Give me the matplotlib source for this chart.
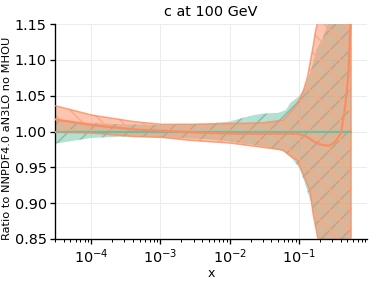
import numpy as np
import matplotlib
matplotlib.use("Agg")
import matplotlib.pyplot as plt

# Reference PDF (green) band
x_ref = [3e-5, 1e-4, 3e-4, 1e-3, 5e-3, 1e-2, 2e-2, 3e-2, 5e-2, 0.065, 0.075, 0.1, 0.12, 0.15, 0.18, 0.22, 0.26, 0.3, 0.4, 0.57]
ref_up = [1.016, 1.012, 1.010, 1.009, 1.011, 1.014, 1.022, 1.025, 1.026, 1.030, 1.040, 1.049, 1.060, 1.086, 1.115, 1.130, 1.150, 1.18, 1.25, 1.3]
ref_lo = [0.983, 0.991, 0.993, 0.992, 0.989, 0.986, 0.982, 0.979, 0.975, 0.970, 0.965, 0.950, 0.930, 0.900, 0.860, 0.82, 0.79, 0.77, 0.74, 0.7]
ref_cv = [1.0] * len(x_ref)

# Compared PDF (orange) band
x_cmp = [3e-5, 1e-4, 3.9e-4, 1e-3, 2.4e-3, 1e-2, 3e-2, 5.9e-2, 7.4e-2, 0.094, 0.114, 0.133, 0.144, 0.16, 0.17, 0.188, 0.2, 0.27, 0.33, 0.37, 0.405, 0.452, 0.488, 0.521, 0.55, 0.565]
cmp_up = [1.036, 1.023, 1.014, 1.010, 1.010, 1.011, 1.012, 1.016, 1.026, 1.038, 1.055, 1.076, 1.095, 1.118, 1.135, 1.155, 1.17, 1.22, 1.26, 1.28, 1.29, 1.3, 1.3, 1.3, 1.3, 1.3]
cmp_lo = [0.999, 0.998, 0.993, 0.992, 0.988, 0.984, 0.978, 0.974, 0.966, 0.960, 0.942, 0.925, 0.918, 0.885, 0.872, 0.850, 0.83, 0.78, 0.75, 0.73, 0.72, 0.71, 0.7, 0.7, 0.7, 0.7]
cmp_cv = [1.017, 1.009, 1.003, 1.001, 0.999, 0.997, 0.997, 0.997, 0.997, 0.997, 0.995, 0.992, 0.990, 0.987, 0.985, 0.983, 0.982, 0.980, 0.985, 0.992, 0.998, 1.026, 1.053, 1.086, 1.142, 1.17]

GREEN = "#66c2a5"
ORANGE = "#fc8d62"

plt.rcParams['font.family'] = ['DejaVu Sans']
plt.rcParams['font.size'] = 6.8
plt.rcParams['hatch.linewidth'] = 0.9

fig = plt.figure(figsize=(374 / 120, 281 / 120), dpi=120)
ax = fig.add_axes([55 / 374, 1 - 239 / 281, (367 - 55) / 374, (239 - 24) / 281])

def smooth(xs, ys):
    lx = np.log10(xs)
    g = np.linspace(lx[0], lx[-1], 600)
    return 10 ** g, np.interp(g, lx, ys)

# green
gx, gu = smooth(x_ref, ref_up)
_, gl = smooth(x_ref, ref_lo)
_, gc = smooth(x_ref, ref_cv)
ax.fill_between(gx, gl, gu, facecolor=GREEN, edgecolor='#6f8f80', alpha=0.5, hatch='//', linewidth=0, zorder=2)
ax.plot(gx, gc, color=GREEN, lw=1.3, zorder=3)

# orange
ox, ou = smooth(x_cmp, cmp_up)
_, ol = smooth(x_cmp, cmp_lo)
_, oc = smooth(x_cmp, cmp_cv)
ax.fill_between(ox, ol, ou, facecolor=ORANGE, edgecolor=ORANGE, alpha=0.5, linewidth=0, zorder=2)
ax.fill_between(ox, ol, ou, facecolor='none', edgecolor='#ffa983', alpha=1.0, hatch='\\\\', linewidth=0, zorder=2.5)
ax.plot(ox, ou, color=ORANGE, lw=0.9, alpha=0.8, zorder=3)
ax.plot(ox, ol, color=ORANGE, lw=0.9, alpha=0.8, zorder=3)
ax.plot(ox, oc, color=ORANGE, lw=1.3, zorder=4)
ax.plot([ox[-1], ox[-1]], [0.85, 1.15], color=ORANGE, lw=0.9, alpha=0.8, zorder=3)

ax.set_xscale('log')
ax.set_xlim(3.0e-5, 0.96)
ax.set_ylim(0.85, 1.15)
ax.set_yticks([0.85, 0.90, 0.95, 1.00, 1.05, 1.10, 1.15])
ax.set_yticklabels(["0.85", "0.90", "0.95", "1.00", "1.05", "1.10", "1.15"])
ax.grid(True, which='major', color='#ececec', lw=0.6, zorder=0)
ax.set_axisbelow(True)
for s in ['top', 'right']:
    ax.spines[s].set_visible(False)
ax.tick_params(axis='both', which='major', length=3, width=0.8, pad=2, labelsize=8.6)
ax.tick_params(axis='x', which='minor', length=1.8, width=0.6)

ax.set_title("c at 100 GeV", fontsize=8.6, pad=5)
ax.set_xlabel("x", fontsize=7.5)
ax.xaxis.set_label_coords((211 - 55) / 312, -(267 - 239) / 215)
ax.set_ylabel("Ratio to NNPDF4.0 aN3LO no MHOU", fontsize=6.8)
ax.yaxis.set_label_coords(-(55 - 12) / 312, (239 - 138) / 215)

fig.savefig("out.png", dpi=120)
